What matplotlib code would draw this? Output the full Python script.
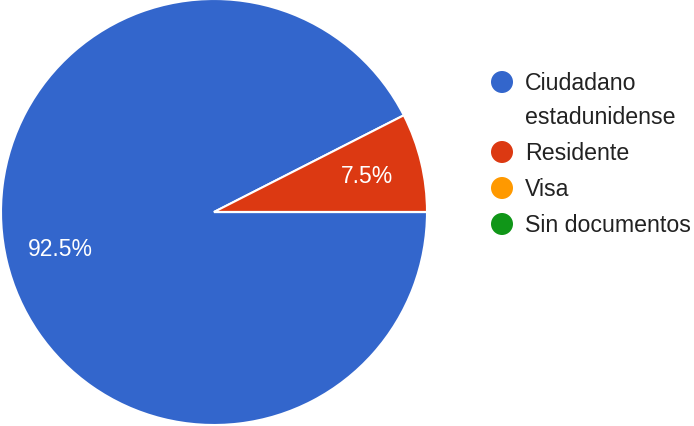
import matplotlib
matplotlib.use("Agg")
import matplotlib.pyplot as plt
from matplotlib.patches import Circle

plt.rcParams['font.family'] = ['Liberation Sans', 'DejaVu Sans']

categories = ["Ciudadano\nestadunidense", "Residente", "Visa", "Sin documentos"]
shares = [92.5, 7.5, 0.0, 0.0]
colors = ["#3366cc", "#dc3912", "#ff9900", "#109618"]

W, H = 694, 427
fig = plt.figure(figsize=(W / 100, H / 100), dpi=100)
fig.patch.set_facecolor("white")

# pie area: centre (214, 213) px, radius 213 px
cx, cy, r = 214, 213, 213
ax = fig.add_axes([(cx - r) / W, (H - cy - r) / H, 2 * r / W, 2 * r / H])
ax.pie(shares, colors=colors, startangle=0, counterclock=False, radius=1,
       autopct=lambda p: f"{p:.1f}%" if p > 0 else "",
       pctdistance=0.74,
       wedgeprops=dict(edgecolor="white", linewidth=1.5),
       textprops=dict(color="white", fontsize=16.5))
ax.set_xlim(-1.0, 1.0)
ax.set_ylim(-1.0, 1.0)
ax.set_aspect("equal")
ax.axis("off")

# legend drawn in pixel coordinates
lax = fig.add_axes([0, 0, 1, 1])
lax.set_xlim(0, W)
lax.set_ylim(H, 0)
lax.axis("off")
rows = [83, 153, 189, 225]
for label, color, y in zip(categories, colors, rows):
    lax.add_patch(Circle((502, y), 11, color=color, lw=0))
    lax.text(525, y + 1, label.split("\n")[0], fontsize=16.7, color="#222222",
             va="center", ha="left")
    for k, extra in enumerate(label.split("\n")[1:], start=1):
        lax.text(525, y + 1 + 33 * k, extra, fontsize=16.7, color="#222222",
                 va="center", ha="left")

fig.savefig("out.png", dpi=100, facecolor="white")
